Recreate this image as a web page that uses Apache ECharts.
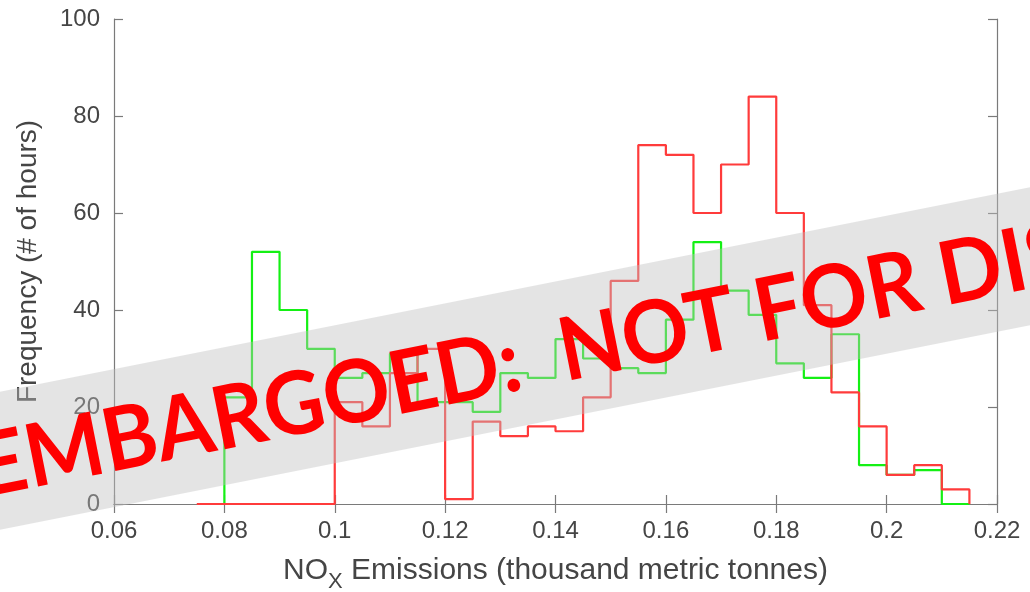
<!DOCTYPE html>
<html>
<head>
<meta charset="utf-8">
<script src="https://cdn.jsdelivr.net/npm/echarts@6/dist/echarts.min.js"></script>
<style>
  html, body { margin: 0; padding: 0; background: #fff; }
  #chart { width: 1030px; height: 592px; }
</style>
</head>
<body>
<div id="chart"></div>
<script>
// Histogram bins (width 0.005 thousand metric tonnes)
const binWidth = 0.005;
const greenStart = 0.080;
const greenCounts = [22, 52, 40, 32, 26, 27, 31, 21, 21, 19, 27, 26, 34, 30, 28, 27, 38, 54, 44, 39, 29, 26, 35, 8, 6, 7, 0];
const redStart = 0.075;
const redCounts = [0, 0, 0, 0, 0, 21, 16, 27, 32, 1, 17, 14, 16, 15, 22, 46, 74, 72, 60, 70, 84, 60, 41, 23, 16, 6, 8, 3];

const xTicks = { min: 0.06, max: 0.22, interval: 0.02 };
const yTicks = { min: 0, max: 100, interval: 20 };

const xTitle = 'NO';
const xTitleSub = 'X';
const xTitleRest = ' Emissions (thousand metric tonnes)';
const yTitle = 'Frequency (# of hours)';
const bannerText = 'EMBARGOED:  NOT FOR DISTRIBUTION';

// Outline ("stairs") of a histogram: up from zero at the first edge, across each bin, back to zero
function stairs(start, width, counts) {
  const pts = [[start, 0]];
  counts.forEach((c, i) => pts.push([+(start + i * width).toFixed(4), c]));
  pts.push([+(start + counts.length * width).toFixed(4), 0]);
  return pts;
}

const axisGray = '#7a7a7a';
const labelGray = '#454545';
const font = '"Liberation Sans", Arial, Helvetica, sans-serif';

const chart = echarts.init(document.getElementById('chart'), null, { renderer: 'canvas' });

const xAxisBase = {
  type: 'value', min: xTicks.min, max: xTicks.max, interval: xTicks.interval,
  axisLine: { show: true, lineStyle: { color: axisGray, width: 1.2 } },
  axisTick: { show: true, inside: true, length: 9, lineStyle: { color: axisGray, width: 1.2 } },
  splitLine: { show: false }
};
const yAxisBase = {
  type: 'value', min: yTicks.min, max: yTicks.max, interval: yTicks.interval,
  axisLine: { show: true, lineStyle: { color: axisGray, width: 1.2 } },
  axisTick: { show: true, inside: true, length: 9, lineStyle: { color: axisGray, width: 1.2 } },
  splitLine: { show: false }
};

chart.setOption({
  animation: false,
  backgroundColor: '#ffffff',
  grid: { left: 114, right: 33, top: 19, bottom: 88, containLabel: false, outerBoundsMode: 'none' },
  xAxis: [
    Object.assign({}, xAxisBase, {
      position: 'bottom',
      axisLabel: { show: true, color: labelGray, fontFamily: font, fontSize: 24, margin: 15 },
      name: '{a|' + xTitle + '}{s|' + xTitleSub + '}{a|' + xTitleRest + '}',
      nameLocation: 'middle',
      nameGap: 52,
      nameTextStyle: {
        color: labelGray,
        rich: {
          a: { fontFamily: font, fontSize: 30, color: labelGray, lineHeight: 30 },
          s: { fontFamily: font, fontSize: 22, color: labelGray, lineHeight: 30, padding: [22, 0, 0, 0] }
        }
      }
    }),
    Object.assign({}, xAxisBase, { position: 'top', axisLabel: { show: false } })
  ],
  yAxis: [
    Object.assign({}, yAxisBase, {
      position: 'left',
      axisLabel: { show: true, color: labelGray, fontFamily: font, fontSize: 24, margin: 14 },
      name: yTitle,
      nameLocation: 'middle',
      nameGap: 72,
      nameTextStyle: { color: labelGray, fontFamily: font, fontSize: 28 }
    }),
    Object.assign({}, yAxisBase, { position: 'right', axisLabel: { show: false } })
  ],
  series: [
    {
      type: 'line', step: 'end', showSymbol: false, symbol: 'none',
      data: stairs(greenStart, binWidth, greenCounts),
      lineStyle: { color: '#14f014', width: 2.2 }, z: 2
    },
    {
      type: 'line', step: 'end', showSymbol: false, symbol: 'none',
      data: stairs(redStart, binWidth, redCounts),
      lineStyle: { color: '#ff3b3b', width: 2.2 }, z: 3
    }
  ],
  graphic: [
    {
      type: 'polygon', z: 100, silent: true,
      shape: { points: [[-20, 395.8], [1050, 183.4], [1050, 321.4], [-20, 533.8]] },
      style: { fill: 'rgba(190,190,190,0.42)' }
    },
    {
      type: 'text', z: 101, silent: true,
      x: -21, y: 469.4, rotation: 0.197, scaleX: 0.98, scaleY: 1.03,
      style: {
        x: 0, y: 0,
        text: bannerText,
        fill: '#ff0000',
        fontFamily: 'Lato, "Open Sans", sans-serif',
        fontWeight: 'bold',
        fontSize: 85,
        align: 'left',
        verticalAlign: 'middle'
      }
    }
  ]
});
</script>
</body>
</html>
